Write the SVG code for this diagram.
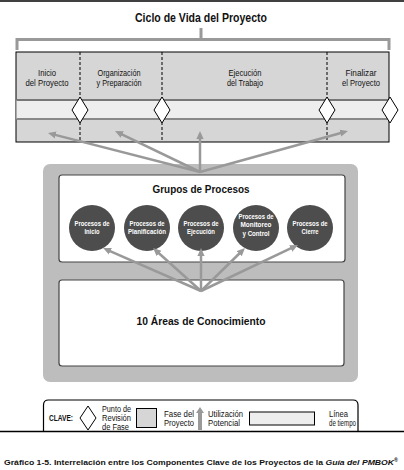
<svg xmlns="http://www.w3.org/2000/svg" width="404" height="470" viewBox="0 0 404 470">
<style>
text{font-family:"Liberation Sans",Arial,sans-serif;fill:#111;}
.b{font-weight:bold;}
.ph{font-size:9px;text-anchor:middle;}
.ct{font-size:7px;font-weight:bold;fill:#fff;text-anchor:middle;}
.lg{font-size:8.5px;}
.dash{stroke:#000;stroke-width:1;stroke-dasharray:3,2;}
.dia{fill:#fff;stroke:#000;stroke-width:1;}
.arr{stroke:#999;stroke-width:2.5;fill:none;}
.circ{fill:#4d4d4d;}
.wbox{fill:#fff;stroke:#444;stroke-width:1.2;}
</style>
<defs>
<marker id="ah" viewBox="0 0 10 10" refX="2" refY="5" markerWidth="8" markerHeight="8" markerUnits="userSpaceOnUse" orient="auto">
<path d="M0,0.5 L10,5 L0,9.5 z" fill="#999"/>
</marker>
</defs>
<rect x="0" y="0" width="404" height="470" fill="#fff"/>
<line x1="0" y1="1" x2="404" y2="1" stroke="#000" stroke-width="1.5"/>

<g id="lifecycle">
<text class="b" x="201" y="22" font-size="12" text-anchor="middle" textLength="132" lengthAdjust="spacingAndGlyphs">Ciclo de Vida del Proyecto</text>
<path d="M201,28 V39.5 M17,50 V39.5 H389 V50" fill="none" stroke="#999" stroke-width="3"/>
<rect x="16" y="52" width="373" height="90" fill="#d6d6d6" stroke="#000" stroke-width="1"/>
<rect x="16.5" y="100" width="372" height="19" fill="#eeeeee"/>
<line x1="16.5" y1="100" x2="388.5" y2="100" stroke="#777" stroke-width="2"/>
<line x1="16.5" y1="119" x2="388.5" y2="119" stroke="#888" stroke-width="2"/>
<line class="dash" x1="80" y1="52" x2="80" y2="142"/>
<line class="dash" x1="162" y1="52" x2="162" y2="142"/>
<line class="dash" x1="327" y1="52" x2="327" y2="142"/>
</g>
<g id="phase-inicio">
<text class="ph" x="47" y="75.5" textLength="18" lengthAdjust="spacingAndGlyphs">Inicio</text>
<text class="ph" x="47" y="85.5" textLength="43" lengthAdjust="spacingAndGlyphs">del Proyecto</text>
</g>
<g id="phase-organizacion">
<text class="ph" x="119" y="75.5" textLength="43" lengthAdjust="spacingAndGlyphs">Organización</text>
<text class="ph" x="119" y="85.5" textLength="45" lengthAdjust="spacingAndGlyphs">y Preparación</text>
</g>
<g id="phase-ejecucion">
<text class="ph" x="245" y="75.5" textLength="33" lengthAdjust="spacingAndGlyphs">Ejecución</text>
<text class="ph" x="245" y="85.5" textLength="36" lengthAdjust="spacingAndGlyphs">del Trabajo</text>
</g>
<g id="phase-finalizar">
<text class="ph" x="361" y="75.5" textLength="31" lengthAdjust="spacingAndGlyphs">Finalizar</text>
<text class="ph" x="361" y="85.5" textLength="38" lengthAdjust="spacingAndGlyphs">el Proyecto</text>
</g>
<g id="gates">
<path class="dia" d="M80,97 L88,110 L80,123 L72,110 z"/>
<path class="dia" d="M162,97 L170,110 L162,123 L154,110 z"/>
<path class="dia" d="M327,97 L335,110 L327,123 L319,110 z"/>
<path class="dia" d="M390,97 L398,110 L390,123 L382,110 z"/>
</g>

<g id="process-frame">
<rect x="43" y="164" width="315" height="218" rx="7" fill="#bdbdbd"/>
</g>
<g id="grupos">
<rect class="wbox" x="59" y="175" width="286" height="87" rx="3"/>
<text class="b" x="201" y="193" font-size="11" text-anchor="middle" textLength="97" lengthAdjust="spacingAndGlyphs">Grupos de Procesos</text>
</g>
<g id="p-inicio">
<circle class="circ" cx="92" cy="228" r="23"/>
<text class="ct" x="92" y="226" textLength="35" lengthAdjust="spacingAndGlyphs">Procesos de</text>
<text class="ct" x="92" y="234" textLength="15" lengthAdjust="spacingAndGlyphs">Inicio</text>
</g>
<g id="p-planificacion">
<circle class="circ" cx="147" cy="228" r="23"/>
<text class="ct" x="147" y="226" textLength="35" lengthAdjust="spacingAndGlyphs">Procesos de</text>
<text class="ct" x="147" y="234" textLength="38" lengthAdjust="spacingAndGlyphs">Planificación</text>
</g>
<g id="p-ejecucion">
<circle class="circ" cx="201" cy="228" r="23"/>
<text class="ct" x="201" y="226" textLength="35" lengthAdjust="spacingAndGlyphs">Procesos de</text>
<text class="ct" x="201" y="234" textLength="28" lengthAdjust="spacingAndGlyphs">Ejecución</text>
</g>
<g id="p-monitoreo">
<circle class="circ" cx="256" cy="228" r="23"/>
<text class="ct" x="256" y="218.5" textLength="35" lengthAdjust="spacingAndGlyphs">Procesos de</text>
<text class="ct" x="256" y="227" textLength="31" lengthAdjust="spacingAndGlyphs">Monitoreo</text>
<text class="ct" x="256" y="235.5" textLength="27" lengthAdjust="spacingAndGlyphs">y Control</text>
</g>
<g id="p-cierre">
<circle class="circ" cx="310" cy="228" r="23"/>
<text class="ct" x="310" y="226" textLength="35" lengthAdjust="spacingAndGlyphs">Procesos de</text>
<text class="ct" x="310" y="234" textLength="17" lengthAdjust="spacingAndGlyphs">Cierre</text>
</g>
<g id="areas">
<rect class="wbox" x="59" y="280" width="285" height="86" rx="3"/>
<text class="b" x="201" y="325" font-size="11.5" text-anchor="middle" textLength="129" lengthAdjust="spacingAndGlyphs">10 Áreas de Conocimiento</text>
</g>

<g id="connectors">
<path class="arr" marker-end="url(#ah)" d="M200,172 L54.2,134.6"/>
<path class="arr" marker-end="url(#ah)" d="M200,172 L120.8,133.8"/>
<path class="arr" marker-end="url(#ah)" d="M200,172 L200,137.4"/>
<path class="arr" marker-end="url(#ah)" d="M200,172 L341.8,132.7"/>
<path class="arr" marker-end="url(#ah)" d="M201,291 L108.9,250.6"/>
<path class="arr" marker-end="url(#ah)" d="M201,291 L157.8,252.3"/>
<path class="arr" marker-end="url(#ah)" d="M201,291 L201,254.4"/>
<path class="arr" marker-end="url(#ah)" d="M201,291 L240.4,252.5"/>
<path class="arr" marker-end="url(#ah)" d="M201,291 L292.2,247.7"/>
</g>

<g id="legend">
<path d="M43.5,431 V405 Q43.5,400 48.5,400 H353 Q358,400 358,405 V431" fill="#fff" stroke="#000" stroke-width="1.2"/>
<line x1="0" y1="431.5" x2="404" y2="431.5" stroke="#000" stroke-width="1.5"/>
<text class="lg b" x="49" y="421" textLength="24" lengthAdjust="spacingAndGlyphs">CLAVE:</text>
<path class="dia" d="M88,406 L96,418 L88,430 L80,418 z"/>
<text class="lg" x="102" y="412" textLength="29" lengthAdjust="spacingAndGlyphs">Punto de</text>
<text class="lg" x="102" y="421" textLength="29" lengthAdjust="spacingAndGlyphs">Revisión</text>
<text class="lg" x="102" y="430" textLength="27" lengthAdjust="spacingAndGlyphs">de Fase</text>
<rect x="136.5" y="408.5" width="20" height="19" fill="#d6d6d6" stroke="#000" stroke-width="1"/>
<text class="lg" x="164" y="417" textLength="30" lengthAdjust="spacingAndGlyphs">Fase del</text>
<text class="lg" x="164" y="426" textLength="30" lengthAdjust="spacingAndGlyphs">Proyecto</text>
<path d="M200,407 L204,413 L202,413 L202,430 L198,430 L198,413 L196,413 z" fill="#999"/>
<text class="lg" x="208" y="417" textLength="35" lengthAdjust="spacingAndGlyphs">Utilización</text>
<text class="lg" x="208" y="426" textLength="32" lengthAdjust="spacingAndGlyphs">Potencial</text>
<rect x="249.5" y="412" width="65" height="13" fill="#eeeeee" stroke="#000" stroke-width="1"/>
<text class="lg" x="329" y="417" textLength="19" lengthAdjust="spacingAndGlyphs">Línea</text>
<text class="lg" x="329" y="426" textLength="27" lengthAdjust="spacingAndGlyphs">de tiempo</text>
</g>

<g id="caption">
<text class="b" x="4" y="465" font-size="8" textLength="394" lengthAdjust="spacingAndGlyphs">Gráfico 1-5. Interrelación entre los Componentes Clave de los Proyectos de la <tspan font-style="italic">Guía del PMBOK</tspan><tspan font-size="5" dy="-3">®</tspan></text>
</g>
</svg>
